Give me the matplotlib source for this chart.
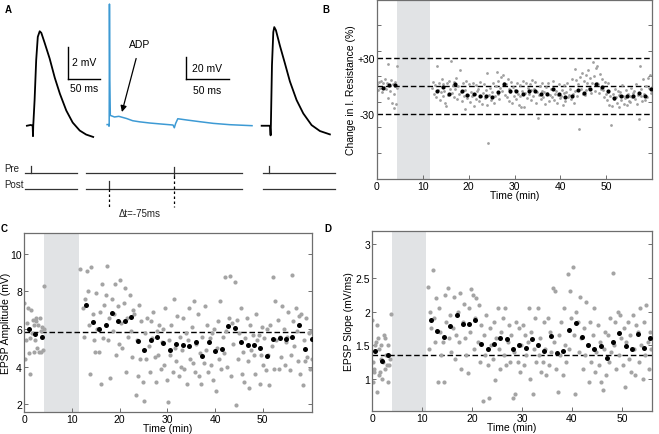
import numpy as np
import matplotlib
matplotlib.use("Agg")
import matplotlib.pyplot as plt
from matplotlib.transforms import blended_transform_factory

plt.rcParams['font.family'] = ['Liberation Sans', 'DejaVu Sans']
plt.rcParams['font.size'] = 7.5

# ---------------- panel A traces (ms, mV relative to baseline) ----------------
epsp_pre_t = [-9.5, -3.5, -0.5, 0.0, 0.4, 2.5, 5.0, 7.5, 10.5, 13.0, 18.0, 26.0,
              34.0, 42.0, 52.0, 62.0, 73.0, 83.0, 94.0]
epsp_pre_v = [0.0, 0.05, 0.0, -0.65, 0.0, 1.6, 4.1, 5.55, 5.9, 5.8, 5.2, 4.2,
              3.0, 2.0, 0.95, 0.2, -0.3, -0.55, -0.7]

spike_t = [-2.5, -0.6, -0.3, -0.1, 0.2, 0.6, 1.2, 3.0, 6.0, 11.0, 20.0, 27.0,
           35.0, 47.0, 60.0, 73.5, 75.0, 76.5, 79.0, 90.0, 104.6, 120.0, 139.0, 164.6]
spike_v = [-0.5, -0.5, -2.0, 0.0, 109.0, 40.0, 7.8, 7.3, 6.4, 7.0, 5.0, 3.0,
           2.0, 0.9, 0.0, -0.9, -3.4, 0.5, 4.8, 3.6, 2.1, 0.6, -0.6, -1.5]

epsp_post_t = [-14.1, -1.1, -0.1, 0.3, 2.0, 4.1, 5.6, 8.2, 14.4, 22.2, 30.0,
               40.5, 50.9, 63.9, 76.9, 92.5]
epsp_post_v = [0.0, 0.0, -0.6, 0.0, 3.77, 5.85, 6.16, 5.96, 5.0, 3.9, 2.77,
               1.6, 0.77, 0.04, -0.33, -0.54]

# stimulus timing (ms, same time base as the trace above each)
pre_stim_before = -3.1
pre_stim_pair = 75.0
post_stim_pair = 0.0
pre_stim_after = -3.1

# ---------------- panel B: input resistance ----------------
b_gray_x = [0.1, 0.3, 0.5, 0.7, 0.9, 1.1, 1.3, 1.5, 1.7, 1.9, 2.1, 2.3, 2.5, 2.7,
            2.9, 3.1, 3.2, 3.4, 3.6, 3.8, 4.0, 4.1, 4.3, 4.4,
            12.1, 12.3, 12.5, 12.7, 12.9,
            13.1, 13.3, 13.5, 13.7, 13.9,
            14.1, 14.3, 14.5, 14.7, 14.9,
            15.1, 15.3, 15.5, 15.7, 15.9,
            16.1, 16.3, 16.5, 16.7, 16.9,
            17.1, 17.3, 17.5, 17.7, 17.9,
            18.1, 18.3, 18.5, 18.7, 18.9,
            19.1, 19.3, 19.5, 19.7, 19.9,
            20.1, 20.3, 20.5, 20.7, 20.9,
            21.1, 21.3, 21.5, 21.7, 21.9,
            22.1, 22.3, 22.5, 22.7, 22.9,
            23.1, 23.3, 23.5, 23.7, 23.9,
            24.1, 24.3, 24.5, 24.7, 24.9,
            25.1, 25.3, 25.5, 25.7, 25.9,
            26.1, 26.3, 26.5, 26.7, 26.9,
            27.1, 27.3, 27.5, 27.7, 27.9,
            28.1, 28.3, 28.5, 28.7, 28.9,
            29.1, 29.3, 29.5, 29.7, 29.9,
            30.1, 30.3, 30.5, 30.7, 30.9,
            31.1, 31.3, 31.5, 31.7, 31.9,
            32.1, 32.3, 32.5, 32.7, 32.9,
            33.1, 33.3, 33.5, 33.7, 33.9,
            34.1, 34.3, 34.5, 34.7, 34.9,
            35.1, 35.3, 35.5, 35.7, 35.9,
            36.1, 36.3, 36.5, 36.7, 36.9,
            37.1, 37.3, 37.5, 37.7, 37.9,
            38.1, 38.3, 38.5, 38.7, 38.9,
            39.1, 39.3, 39.5, 39.7, 39.9,
            40.1, 40.3, 40.5, 40.7, 40.9,
            41.1, 41.3, 41.5, 41.7, 41.9,
            42.1, 42.3, 42.5, 42.7, 42.9,
            43.1, 43.3, 43.5, 43.7, 43.9,
            44.1, 44.3, 44.5, 44.7, 44.9,
            45.1, 45.3, 45.5, 45.7, 45.9,
            46.1, 46.3, 46.5, 46.7, 46.9,
            47.1, 47.3, 47.5, 47.7, 47.9,
            48.1, 48.3, 48.5, 48.7, 48.9,
            49.1, 49.3, 49.5, 49.7, 49.9,
            50.1, 50.3, 50.5, 50.7, 50.9,
            51.1, 51.3, 51.5, 51.7, 51.9,
            52.1, 52.3, 52.5, 52.7, 52.9,
            53.1, 53.3, 53.5, 53.7, 53.9,
            54.1, 54.3, 54.5, 54.7, 54.9,
            55.1, 55.3, 55.5, 55.7, 55.9,
            56.1, 56.3, 56.5, 56.7, 56.9,
            57.1, 57.3, 57.5, 57.7, 57.9,
            58.1, 58.3, 58.5, 58.7, 58.9,
            59.1, 59.3, 59.5, 59.7, 59.9]
b_gray_y = [2, -4, 5, -2, 6, -6, 3, -1, 8, -3, 4, -13, 24, 1,
            -5, 7, -18, 2, -8, -23, 5, -19, 22, -2,
            -2, 5, -8, 1, -12,
            22, -4, 3, -15, -6,
            8, -10, 2, -5, -18,
            -21, 4, -9, 6, -3,
            27, -7, 1, -12, 5,
            -3, 9, -14, 0, -8,
            17, -6, -16, 3, -10,
            -25, -4, 6, -13, -9,
            2, -17, -6, -11, 4,
            -21, -8, 1, -14, -5,
            -3, -16, 5, -10, -19,
            -7, 2, -13, -4, -20,
            14, -61, -9, -2, -15,
            -6, 3, -18, -11, 0,
            15, -8, 6, -14, -2,
            10, -5, 12, 4, -9,
            2, -12, 8, -3, -16,
            -6, 5, -18, -1, -10,
            -4, -14, 4, -8, -20,
            1, -10, -22, -5, 6,
            -22, -7, 3, -13, -2,
            -8, 2, -15, -4, 7,
            -11, -3, 5, -18, -6,
            -34, -9, 0, -14, -5,
            4, -12, -6, -19, -1,
            -7, 3, -16, -9, -3,
            -12, -2, 6, -15, -8,
            -5, -18, -9, 2, -13,
            -10, -4, -20, -7, 1,
            -16, -6, 3, -12, -9,
            -3, -14, 8, -8, -18,
            19, -5, 7, -11, 2,
            -46, 10, -3, 14, -8,
            6, -9, 12, -4, 3,
            18, -2, 9, -7, 4,
            26, 11, -5, 20, 3,
            22, 2, -7, 13, -3,
            8, -4, -12, 5, -8,
            -15, -6, 3, -20, -10,
            -42, -21, -8, -14, -3,
            -12, -18, -5, -22, -9,
            -6, -15, 1, -11, -19,
            -13, -4, -20, -8, -16,
            -10, -17, -2, -12, -7,
            -5, -14, 2, -19, -9,
            -35, 22, -11, -3, -16,
            8, -8, -15, 0, -12,
            9, -2, 12, -7, -1]
b_mean_x = [1.2, 2.6, 3.9, 13.1, 14.4, 15.7, 17.0, 18.5, 19.7, 21.1, 22.4, 23.7,
            25.1, 26.4, 27.8, 29.1, 30.4, 31.8, 33.1, 34.4, 35.8, 37.1, 38.4,
            39.8, 41.1, 42.5, 43.8, 45.1, 46.4, 47.8, 49.1, 50.5, 51.8, 53.2,
            54.6, 55.8, 57.2, 58.5, 59.8]
b_mean_y = [-1.8, 1.1, 1.4, -5.4, -1.1, -8.3, 2.2, -5.4, -9.4, -8.3, -10.1, -10.1,
            -11.6, -6.1, 2.9, -4.7, -4.7, -8.7, -5.1, -5.1, -8.7, -8.3, -3.2,
            -8.7, -11.2, -10.1, -4.3, -7.6, -3.2, 2.2, -0.4, -5.4, -12.3, -10.1,
            -10.5, -10.1, -7.2, -10.5, -3.2]

# ---------------- panel C: EPSP amplitude ----------------
c_gray_x = [0.1, 0.3, 0.5, 0.7, 0.9, 1.0, 1.2, 1.3, 1.5, 1.6, 1.8, 2.0, 2.1,
            2.3, 2.5, 2.6, 2.8, 3.0, 3.1, 3.3, 3.5, 3.6, 3.8, 3.9, 4.1, 4.25,
            11.7, 12.35, 12.6, 12.85,
            13.1, 13.35, 13.6, 13.85,
            14.1, 14.35, 14.6, 14.85,
            15.1, 15.35, 15.6, 15.85,
            16.1, 16.35, 16.6, 16.85,
            17.1, 17.35, 17.6, 17.85,
            18.1, 18.35, 18.6, 18.85,
            19.1, 19.35, 19.6, 19.85,
            20.1, 20.35, 20.6, 20.85,
            21.1, 21.35, 21.6, 21.85,
            22.1, 22.35, 22.6, 22.85,
            23.1, 23.35, 23.6, 23.85,
            24.1, 24.35, 24.6, 24.85,
            25.1, 25.35, 25.6, 25.85,
            26.1, 26.35, 26.6, 26.85,
            27.1, 27.35, 27.6, 27.85,
            28.1, 28.35, 28.6, 28.85,
            29.1, 29.35, 29.6, 29.85,
            30.1, 30.35, 30.6, 30.85,
            31.1, 31.35, 31.6, 31.85,
            32.1, 32.35, 32.6, 32.85,
            33.1, 33.35, 33.6, 33.85,
            34.1, 34.35, 34.6, 34.85,
            35.1, 35.35, 35.6, 35.85,
            36.1, 36.35, 36.6, 36.85,
            37.1, 37.35, 37.6, 37.85,
            38.1, 38.35, 38.6, 38.85,
            39.1, 39.35, 39.6, 39.85,
            40.1, 40.35, 40.6, 40.85,
            41.1, 41.35, 41.6, 41.85,
            42.1, 42.35, 42.6, 42.85,
            43.1, 43.35, 43.6, 43.85,
            44.1, 44.35, 44.6, 44.85,
            45.1, 45.35, 45.6, 45.85,
            46.1, 46.35, 46.6, 46.85,
            47.1, 47.35, 47.6, 47.85,
            48.1, 48.35, 48.6, 48.85,
            49.1, 49.35, 49.6, 49.85,
            50.1, 50.35, 50.6, 50.85,
            51.1, 51.35, 51.6, 51.85,
            52.1, 52.35, 52.6, 52.85,
            53.1, 53.35, 53.6, 53.85,
            54.1, 54.35, 54.6, 54.85,
            55.1, 55.35, 55.6, 55.85,
            56.1, 56.35, 56.6, 56.85,
            57.1, 57.35, 57.6, 57.85,
            58.1, 58.35, 58.6, 58.85,
            59.1, 59.35, 59.6, 59.85,
            60.05, 60.2]
c_gray_y = [7.4, 4.4, 5.4, 6.3, 7.1, 4.7, 5.5, 3.6, 7.0, 5.8, 6.5, 6.2, 4.8,
            5.4, 6.4, 6.6, 5.0, 6.2, 4.8, 6.6, 5.9, 4.8, 6.1, 4.9, 6.0, 8.3,
            9.2, 7.1, 5.6, 7.6,
            9.1, 8.0, 6.2, 3.6,
            9.3, 6.8, 5.4, 4.8,
            7.9, 6.0, 4.8, 6.9,
            3.1, 8.4, 5.5, 7.3,
            7.8, 9.35, 5.4, 6.6,
            3.4, 7.6, 5.9, 6.8,
            8.4, 4.6, 7.2, 5.2,
            8.6, 6.3, 5.0, 7.4,
            8.2, 3.7, 6.6, 5.6,
            7.8, 5.9, 4.5, 7.0,
            6.8, 2.5, 5.4, 3.5,
            7.3, 4.4, 6.4, 3.2,
            2.2, 5.8, 4.4, 6.6,
            5.1, 3.7, 6.4, 5.5,
            6.9, 4.5, 3.2, 5.9,
            4.6, 6.2, 3.9, 5.3,
            6.0, 4.1, 7.1, 3.3,
            2.1, 5.4, 4.6, 6.2,
            3.7, 7.6, 5.0, 4.3,
            6.7, 3.5, 5.6, 4.0,
            4.9, 6.6, 3.9, 5.8,
            3.1, 5.4, 7.1, 4.4,
            6.1, 4.2, 7.5, 3.7,
            5.2, 6.8, 3.5, 4.7,
            3.1, 5.6, 4.2, 7.2,
            4.9, 6.2, 3.7, 5.5,
            4.1, 5.8, 3.3, 6.0,
            2.7, 5.0, 6.4, 4.4,
            7.5, 3.9, 5.6, 4.7,
            8.75, 5.9, 4.0, 6.6,
            8.8, 3.5, 6.3, 5.2,
            8.5, 1.95, 6.5, 4.4,
            5.8, 7.1, 3.6, 4.8,
            3.2, 5.5, 6.6, 4.3,
            2.85, 6.2, 4.9, 5.7,
            4.6, 3.6, 6.8, 5.4,
            5.7, 3.1, 4.6, 6.1,
            4.1, 5.5, 3.8, 6.0,
            4.6, 3.0, 6.2, 5.1,
            8.75, 3.9, 7.5, 5.4,
            6.5, 3.9, 5.6, 4.5,
            7.2, 6.0, 4.1, 5.3,
            5.6, 6.9, 3.8, 4.6,
            8.85, 6.4, 5.1, 7.1,
            5.9, 4.3, 6.7, 3.6,
            6.8, 3.0, 5.4, 4.3,
            6.6, 4.5, 5.8, 3.9,
            5.9, 4.4]
c_mean_x = [1.05, 2.3, 3.7, 13.0, 14.4, 15.8, 17.1, 18.4, 19.7, 21.1, 22.4, 23.8,
            25.2, 26.5, 27.8, 29.2, 30.6, 31.9, 33.3, 34.6, 36.0, 37.3, 38.7,
            40.0, 41.4, 42.7, 44.1, 45.5, 46.8, 48.2, 49.4, 50.8, 52.2, 53.6,
            54.8, 56.2, 57.5, 58.9, 60.2]
c_mean_y = [6.0, 5.72, 5.56, 7.26, 6.35, 6.0, 6.19, 6.83, 6.4, 6.4, 6.63, 5.36,
            4.87, 5.44, 5.58, 5.26, 4.87, 5.2, 5.15, 5.12, 5.29, 4.58, 5.29,
            4.83, 4.94, 6.17, 6.03, 5.33, 5.13, 5.15, 4.97, 4.58, 5.49, 5.52,
            5.47, 5.56, 6.22, 4.94, 5.45]

# ---------------- panel D: EPSP slope ----------------
d_gray_x = [0.0, 0.1, 0.2, 0.3, 0.4, 0.6, 0.8, 0.9, 1.0, 1.1, 1.3, 1.4, 1.6,
            1.7, 1.8, 2.0, 2.2, 2.3, 2.5, 2.6, 2.8, 2.9, 3.1, 3.2, 3.4, 3.6, 3.7,
            11.1, 11.35, 11.6, 11.85,
            12.1, 12.35, 12.6, 12.85,
            13.1, 13.35, 13.6, 13.85,
            14.1, 14.35, 14.6, 14.85,
            15.1, 15.35, 15.6, 15.85,
            16.1, 16.35, 16.6, 16.85,
            17.1, 17.35, 17.6, 17.85,
            18.1, 18.35, 18.6, 18.85,
            19.1, 19.35, 19.6, 19.85,
            20.1, 20.35, 20.6, 20.85,
            21.1, 21.35, 21.6, 21.85,
            22.1, 22.35, 22.6, 22.85,
            23.1, 23.35, 23.6, 23.85,
            24.1, 24.35, 24.6, 24.85,
            25.1, 25.35, 25.6, 25.85,
            26.1, 26.35, 26.6, 26.85,
            27.1, 27.35, 27.6, 27.85,
            28.1, 28.35, 28.6, 28.85,
            29.1, 29.35, 29.6, 29.85,
            30.1, 30.35, 30.6, 30.85,
            31.1, 31.35, 31.6, 31.85,
            32.1, 32.35, 32.6, 32.85,
            33.1, 33.35, 33.6, 33.85,
            34.1, 34.35, 34.6, 34.85,
            35.1, 35.35, 35.6, 35.85,
            36.1, 36.35, 36.6, 36.85,
            37.1, 37.35, 37.6, 37.85,
            38.1, 38.35, 38.6, 38.85,
            39.1, 39.35, 39.6, 39.85,
            40.1, 40.35, 40.6, 40.85,
            41.1, 41.35, 41.6, 41.85,
            42.1, 42.35, 42.6, 42.85,
            43.1, 43.35, 43.6, 43.85,
            44.1, 44.35, 44.6, 44.85,
            45.1, 45.35, 45.6, 45.85,
            46.1, 46.35, 46.6, 46.85,
            47.1, 47.35, 47.6, 47.85,
            48.1, 48.35, 48.6, 48.85,
            49.1, 49.35, 49.6, 49.85,
            50.1, 50.35, 50.6, 50.85,
            51.1, 51.35, 51.6, 51.85,
            52.1, 52.35, 52.6, 52.85,
            53.1, 53.35, 53.6, 53.85,
            54.1, 54.35, 54.6, 54.85,
            55.1, 55.35, 55.6, 55.85]
d_gray_y = [1.87, 1.25, 0.95, 1.15, 1.1, 1.5, 1.55, 1.8, 0.8, 1.6, 1.05, 1.45, 1.1,
            1.3, 1.5, 1.0, 1.25, 1.65, 1.15, 1.6, 1.35, 1.2, 1.5, 0.95, 1.2, 1.3, 1.97,
            2.36, 1.45, 2.0, 1.75,
            2.62, 1.9, 1.55, 2.2,
            0.95, 2.05, 1.7, 1.35,
            1.55, 0.95, 2.25, 1.85,
            2.35, 1.6, 1.95, 1.4,
            1.75, 2.22, 1.3, 1.65,
            2.0, 1.55, 2.28, 1.15,
            1.85, 2.12, 1.6, 1.35,
            1.08, 2.05, 1.7, 2.33,
            2.25, 1.45, 1.9, 2.2,
            1.55, 2.1, 1.25, 1.8,
            0.67, 1.65, 1.35, 1.95,
            1.2, 0.72, 1.75, 1.5,
            1.3, 1.85, 0.98, 1.6,
            2.05, 1.45, 1.15, 1.7,
            1.9, 1.35, 2.05, 1.2,
            1.55, 1.8, 1.25, 1.65,
            0.72, 1.4, 0.78, 1.85,
            1.25, 1.75, 1.1, 1.5,
            1.8, 1.2, 1.65, 1.35,
            1.55, 2.05, 1.0, 1.7,
            0.78, 1.45, 1.9, 1.25,
            2.05, 1.35, 1.6, 1.1,
            1.25, 1.85, 1.45, 1.05,
            1.9, 1.2, 1.7, 1.4,
            2.35, 1.55, 2.3, 1.15,
            0.8, 1.65, 1.35, 1.85,
            1.05, 2.05, 1.5, 1.25,
            2.56, 1.45, 2.3, 1.9,
            2.66, 1.65, 0.78, 2.0,
            1.85, 1.4, 2.22, 1.6,
            1.15, 1.75, 1.35, 2.15,
            1.5, 0.95, 1.85, 1.25,
            1.65, 2.05, 1.1, 1.4,
            1.8, 1.2, 1.55, 0.95,
            0.84, 1.45, 1.7, 1.05,
            1.65, 1.25, 1.9, 1.4,
            2.57, 1.5, 1.85, 1.15,
            2.0, 1.35, 1.95, 1.6,
            1.2, 1.75, 0.88, 1.55,
            1.85, 1.3, 1.65, 1.1,
            1.95, 1.45, 1.05, 1.8,
            1.7, 1.25, 2.05, 1.5,
            1.0, 1.85, 1.35, 2.1,
            1.55, 1.15, 1.7, 1.45]
d_mean_x = [0.66, 2.0, 3.2, 11.8, 13.0, 14.3, 15.6, 16.9, 18.1, 19.4, 20.6, 21.8,
            23.1, 24.4, 25.6, 26.9, 28.2, 29.4, 30.7, 31.9, 33.2, 34.4, 35.7,
            36.9, 38.1, 39.4, 40.7, 42.0, 43.2, 44.4, 45.7, 46.9, 48.1, 49.4,
            50.7, 51.9, 53.2, 54.4, 55.6]
d_mean_y = [1.41, 1.27, 1.36, 1.87, 1.71, 1.62, 1.78, 1.95, 1.81, 1.82, 1.88, 1.52,
            1.44, 1.52, 1.61, 1.59, 1.44, 1.51, 1.46, 1.59, 1.51, 1.41, 1.64,
            1.39, 1.42, 1.73, 1.83, 1.62, 1.51, 1.45, 1.49, 1.31, 1.54, 1.68,
            1.49, 1.45, 1.67, 1.46, 1.60]

W, H = 659, 435
fig = plt.figure(figsize=(W / 100, H / 100), dpi=100)


def rect(x0, y0, x1, y1):
    # pixel box (top-left origin) -> figure fraction
    return [x0 / W, 1 - y1 / H, (x1 - x0) / W, (y1 - y0) / H]


def fy(y):
    return 1 - y / H


BAND = '#e1e3e5'
GRAY = '#a4a4a4'
SPINE = '#6e6e6e'


def style_axes(ax):
    for s in ax.spines.values():
        s.set_color(SPINE)
        s.set_linewidth(0.9)
    ax.tick_params(direction='in', length=3, width=0.7, color=SPINE,
                   labelsize=7.5, pad=1.5, right=True)
    ax.tick_params(which='minor', direction='in', length=3, width=0.7,
                   color=SPINE, right=True)


# ---------------- panel A ----------------
ax_l = fig.add_axes(rect(15, 10, 115, 145))
ax_l.set_xlim(-28.1, 128.1)
ax_l.set_ylim(-1.14, 7.29)
ax_l.plot(epsp_pre_t, epsp_pre_v, color='black', lw=1.3, clip_on=False)
ax_l.plot([54.7, 54.7], [2.94, 4.94], color='black', lw=1)
ax_l.plot([54.7, 104.7], [2.94, 2.94], color='black', lw=1)
ax_l.text(61, 4.0, '2 mV', fontsize=7.5, va='center')
ax_l.text(79.7, 2.35, '50 ms', fontsize=7.5, ha='center', va='center')

ax_s = fig.add_axes(rect(100, 0, 260, 140))
ax_s.set_xlim(-10.7, 173.8)
ax_s.set_ylim(-13.6, 113.6)
ax_s.plot(spike_t, spike_v, color='#3d9ad4', lw=1.1, clip_on=False)
ax_s.plot([88.5, 88.5], [40.9, 60.9], color='black', lw=1)
ax_s.plot([88.5, 138.5], [40.9, 40.9], color='black', lw=1)
ax_s.text(95, 51, '20 mV', fontsize=7.5, va='center')
ax_s.text(113, 31, '50 ms', fontsize=7.5, ha='center', va='center')
ax_s.annotate('ADP', xy=(14.6, 10.9), xytext=(35.4, 72.7), fontsize=7.5,
              ha='center', va='center',
              arrowprops=dict(arrowstyle='-|>', color='black', lw=0.9,
                              mutation_scale=9, shrinkA=5, shrinkB=0))

ax_r = fig.add_axes(rect(255, 10, 345, 145))
ax_r.set_xlim(-24.5, 116.1)
ax_r.set_ylim(-1.14, 7.29)
ax_r.plot(epsp_post_t, epsp_post_v, color='black', lw=1.3, clip_on=False)

for a in (ax_l, ax_s, ax_r):
    a.axis('off')
    a.patch.set_visible(False)

# stimulus rows (pre / post) drawn on the time base of each trace
PRE_Y, POST_Y, TICK = fy(174), fy(190), 7 / H
DASH_END = fy(208)
stim_col = '#333333'
for a, seg, pre_t in ((ax_l, (-12.5, 68.75), pre_stim_before),
                      (ax_r, (-12.5, 100.0), pre_stim_after)):
    tr = blended_transform_factory(a.transData, fig.transFigure)
    a.plot(seg, [PRE_Y, PRE_Y], color=stim_col, lw=0.9, transform=tr, clip_on=False)
    a.plot(seg, [POST_Y, POST_Y], color=stim_col, lw=0.9, transform=tr, clip_on=False)
    a.plot([pre_t, pre_t], [PRE_Y, PRE_Y + TICK], color=stim_col, lw=0.9,
           transform=tr, clip_on=False)

tr = blended_transform_factory(ax_s.transData, fig.transFigure)
seg = (-26.9, 153.0)
ax_s.plot(seg, [PRE_Y, PRE_Y], color=stim_col, lw=0.9, transform=tr, clip_on=False)
ax_s.plot(seg, [POST_Y, POST_Y], color=stim_col, lw=0.9, transform=tr, clip_on=False)
ax_s.plot([pre_stim_pair] * 2, [PRE_Y - 3 / H, PRE_Y + 6 / H], color=stim_col,
          lw=0.9, transform=tr, clip_on=False)
ax_s.plot([pre_stim_pair] * 2, [PRE_Y - 3 / H, DASH_END], color='black', lw=0.9,
          ls=(0, (2, 2)), transform=tr, clip_on=False)
ax_s.plot([post_stim_pair] * 2, [POST_Y, POST_Y + 8 / H], color=stim_col,
          lw=0.9, transform=tr, clip_on=False)
ax_s.plot([post_stim_pair] * 2, [POST_Y, DASH_END], color='black', lw=0.9,
          ls=(0, (2, 2)), transform=tr, clip_on=False)

fig.text(4 / W, PRE_Y, 'Pre', fontsize=7, va='bottom', color='#222222')
fig.text(4 / W, POST_Y, 'Post', fontsize=7, va='bottom', color='#222222')
fig.text(140 / W, fy(214), '\u0394t=-75ms', fontsize=7, ha='center', va='center',
         color='#222222')

# ---------------- panel B ----------------
axb = fig.add_axes(rect(377, 1, 652, 180))
axb.axvspan(4.35, 11.5, color=BAND, lw=0, zorder=0)
axb.scatter(b_gray_x, b_gray_y, s=4, color='#a0a0a0', linewidths=0, zorder=2)
axb.scatter(b_mean_x, b_mean_y, s=9, color='black', linewidths=0, zorder=3)
for yy in (30, 0, -30):
    axb.axhline(yy, color='black', lw=1, ls=(0, (4, 2)), zorder=1)
axb.set_xlim(0, 60)
axb.set_ylim(-100, 93)
axb.set_xticks([0, 10, 20, 30, 40, 50])
axb.set_yticks([30, -30])
axb.set_yticklabels(['+30', '-30'])
axb.set_yticks([66, 38.5, 11, -16.5, -44, -71.5], minor=True)
style_axes(axb)
axb.tick_params(axis='y', which='major', length=0)
axb.set_xlabel('Time (min)', fontsize=7.5, labelpad=-1)
axb.set_ylabel('Change in I. Resistance (%)', fontsize=7.5, labelpad=1)

# ---------------- panel C ----------------
axc = fig.add_axes(rect(24, 234, 312, 413))
axc.axvspan(4.2, 11.6, color=BAND, lw=0, zorder=0)
axc.scatter(c_gray_x, c_gray_y, s=9, color=GRAY, linewidths=0, zorder=2)
axc.scatter(c_mean_x, c_mean_y, s=13, color='black', linewidths=0, zorder=3)
axc.axhline(5.85, color='black', lw=1, ls=(0, (4, 2)), zorder=1)
axc.set_xlim(0, 60.3)
axc.set_ylim(1.59, 11.1)
axc.set_xticks([0, 10, 20, 30, 40, 50])
axc.set_yticks([2, 4, 6, 8, 10])
style_axes(axc)
axc.set_xlabel('Time (min)', fontsize=7.5, labelpad=-1)
axc.set_ylabel('EPSP Amplitude (mV)', fontsize=7.5, labelpad=-0.5)

# ---------------- panel D ----------------
axd = fig.add_axes(rect(372, 232, 652, 412))
axd.axvspan(3.9, 10.8, color=BAND, lw=0, zorder=0)
axd.scatter(d_gray_x, d_gray_y, s=9, color=GRAY, linewidths=0, zorder=2)
axd.scatter(d_mean_x, d_mean_y, s=13, color='black', linewidths=0, zorder=3)
axd.axhline(1.35, color='black', lw=1, ls=(0, (4, 2)), zorder=1)
axd.set_xlim(0, 56)
axd.set_ylim(0.52, 3.2)
axd.set_xticks([0, 10, 20, 30, 40, 50])
axd.set_yticks([1, 1.5, 2, 2.5, 3])
axd.set_yticklabels(['1', '1.5', '2', '2.5', '3'])
style_axes(axd)
axd.set_xlabel('Time (min)', fontsize=7.5, labelpad=-1)
axd.set_ylabel('EPSP Slope (mV/ms)', fontsize=7.5, labelpad=1)

# panel letters
for lab, x, y in (('A', 8, 10), ('B', 326, 10), ('C', 4, 229), ('D', 328, 229)):
    fig.text(x / W, fy(y), lab, fontsize=7, fontweight='bold', ha='center',
             va='center')

fig.savefig('out.png', dpi=100)
